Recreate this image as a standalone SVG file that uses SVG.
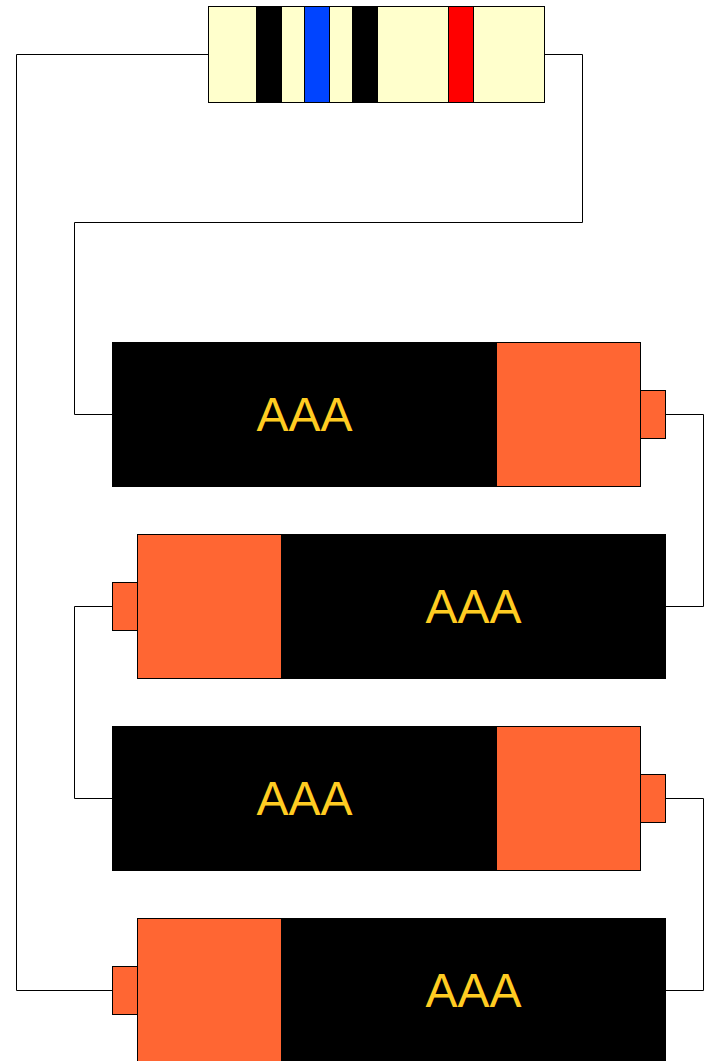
<svg xmlns="http://www.w3.org/2000/svg" width="705" height="1061" viewBox="0 0 705 1061">
<style>
.s{stroke:#000;stroke-width:1}
.o{fill:#ff6633}
.k{fill:#000}
.t{fill:#ffcc22;font-family:"Liberation Sans",Arial,sans-serif;font-size:48px;text-anchor:middle}
.w{fill:none;stroke:#000;stroke-width:1}
</style>
<rect width="705" height="1061" fill="#fff"/>
<g id="connectors">
<path class="w" d="M208.500 54.500H16.500V990.500H112.500"/>
<path class="w" d="M544.500 54.500H582.500V222.500H74.500V414.500H112.500"/>
<path class="w" d="M665.500 414.500H703.500V606.500H665.500"/>
<path class="w" d="M112.500 606.500H74.500V798.500H112.500"/>
<path class="w" d="M665.500 798.500H703.500V990.500H665.500"/>
</g>
<g id="resistor">
<rect class="s" x="208.500" y="6.500" width="336" height="96" fill="#ffffcc"/>
<rect class="s k" x="256.500" y="6.500" width="25" height="96"/>
<rect class="s" x="304.500" y="6.500" width="25" height="96" fill="#0044ff"/>
<rect class="s k" x="352.500" y="6.500" width="25" height="96"/>
<rect class="s" x="448.500" y="6.500" width="25" height="96" fill="#ff0000"/>
</g>
<g id="battery1">
<rect class="s k" x="112.500" y="342.500" width="384" height="144"/>
<rect class="s o" x="496.500" y="342.500" width="144" height="144"/>
<rect class="s o" x="640.500" y="390.500" width="25" height="48"/>
<text class="t" x="304.500" y="431">AAA</text>
</g>
<g id="battery2">
<rect class="s k" x="281.500" y="534.500" width="384" height="144"/>
<rect class="s o" x="137.500" y="534.500" width="144" height="144"/>
<rect class="s o" x="112.500" y="582.500" width="25" height="48"/>
<text class="t" x="473.500" y="623">AAA</text>
</g>
<g id="battery3">
<rect class="s k" x="112.500" y="726.500" width="384" height="144"/>
<rect class="s o" x="496.500" y="726.500" width="144" height="144"/>
<rect class="s o" x="640.500" y="774.500" width="25" height="48"/>
<text class="t" x="304.500" y="815">AAA</text>
</g>
<g id="battery4">
<rect class="s k" x="281.500" y="918.500" width="384" height="144"/>
<rect class="s o" x="137.500" y="918.500" width="144" height="144"/>
<rect class="s o" x="112.500" y="966.500" width="25" height="48"/>
<text class="t" x="473.500" y="1007">AAA</text>
</g>
</svg>
